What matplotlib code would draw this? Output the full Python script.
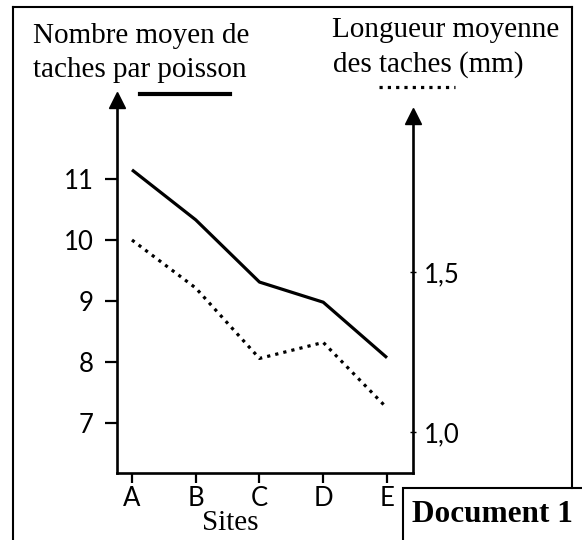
import matplotlib.pyplot as plt
from matplotlib.lines import Line2D
from matplotlib.patches import Rectangle

W, H = 582, 540

sites = ['A', 'B', 'C', 'D', 'E']
nb_taches = [11.15, 10.33, 9.31, 8.98, 8.07]      # left axis
longueur = [1.60, 1.45, 1.23, 1.28, 1.075]        # right axis (mm)
left_ticks = [7, 8, 9, 10, 11]
right_ticks = [1.0, 1.5]
right_labels = ['1,0', '1,5']


def fx(x):
    return x / W


def fy(y):
    return 1 - y / H


fig = plt.figure(figsize=(W / 100, H / 100), dpi=100)
fig.patch.set_facecolor('white')

# axes: left spine at x=117, right at 413, bottom at y=473, top at y=100
ax = fig.add_axes([fx(117), fy(473), (413 - 117) / W, (473 - 100) / H])
ax2 = ax.twinx()

x = list(range(len(sites)))
ax.plot(x, nb_taches, color='black', lw=2.3, solid_capstyle='butt')
ax2.plot(x, longueur, color='black', lw=2.3, linestyle=(0, (1, 1.6)))

ax.set_xlim(-0.235, 4.408)
ax.set_ylim(6.18, 12.295)
ax2.set_ylim(0.872, 2.0375)

for a in (ax, ax2):
    a.spines['top'].set_visible(False)
    a.patch.set_visible(False)
ax.spines['right'].set_visible(False)
ax2.spines['left'].set_visible(False)
ax2.spines['bottom'].set_visible(False)
for s in ('left', 'bottom'):
    ax.spines[s].set_linewidth(1.9)
ax2.spines['right'].set_linewidth(1.9)
ax2.spines['right'].set_bounds(0.872, 1.9875)

tick_font = dict(family='Lato', size=18.5)
ax.set_xticks(x)
ax.set_xticklabels(sites, **tick_font)
ax.set_yticks(left_ticks)
ax.set_yticklabels([str(v) for v in left_ticks], **tick_font)
ax.tick_params(axis='x', direction='out', length=7, width=1.6, pad=2)
ax.tick_params(axis='y', direction='out', length=9, width=1.6, pad=8)
ax2.set_yticks(right_ticks)
ax2.set_yticklabels(right_labels, **tick_font)
ax2.tick_params(axis='y', direction='inout', length=4, width=1.0, pad=6)

# arrow heads on the vertical axes
ax.plot(0, 1, marker='^', ms=11, color='black', transform=ax.transAxes, clip_on=False)
ax2.plot(1, 1.9875, marker='^', ms=11, color='black',
         transform=ax2.get_yaxis_transform(), clip_on=False)

# titles
serif = 'Liberation Serif'
fig.text(fx(33), fy(43), 'Nombre moyen de', family=serif, size=21, va='baseline')
fig.text(fx(33), fy(77), 'taches par poisson', family=serif, size=21, va='baseline')
fig.text(fx(332), fy(37), 'Longueur moyenne', family=serif, size=21, va='baseline')
fig.text(fx(333), fy(72), 'des taches (mm)', family=serif, size=21, va='baseline')
fig.text(fx(230), fy(530), 'Sites', family=serif, size=21, ha='center', va='baseline')

# legend keys
fig.add_artist(Line2D([fx(140), fx(230)], [fy(94), fy(94)], color='black', lw=3))
fig.add_artist(Line2D([fx(379), fx(455)], [fy(87), fy(87)], color='black', lw=2.3,
                      linestyle=(0, (1, 1.6))))

# frame
fig.add_artist(Line2D([fx(13), fx(572)], [fy(7), fy(7)], color='black', lw=1.5))
fig.add_artist(Line2D([fx(13), fx(13)], [fy(7), fy(545)], color='black', lw=1.5))
fig.add_artist(Line2D([fx(572), fx(572)], [fy(7), fy(488)], color='black', lw=1.5))

# Document 1 box
fig.add_artist(Rectangle((fx(403), fy(560)), fx(200), (560 - 488) / H,
                         transform=fig.transFigure, fill=False, lw=1.5, ec='black'))
fig.text(fx(412), fy(522), 'Document 1', family=serif, size=22.5, weight='bold', va='baseline')

fig.savefig('out.png', dpi=100)
